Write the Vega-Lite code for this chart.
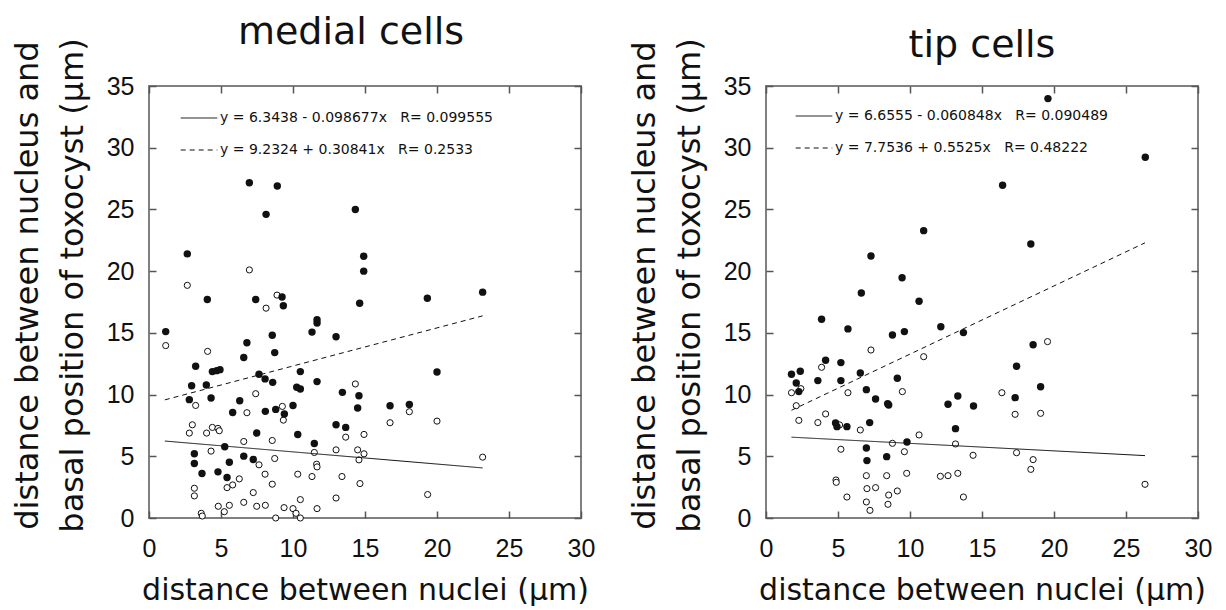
{
  "$schema": "https://vega.github.io/schema/vega-lite/v6.json",
  "background": "white",
  "padding": {"left": 10, "top": 12, "right": 0, "bottom": 0},
  "bounds": "flush",
  "spacing": 185,
  "config": {
    "view": {"stroke": "#808080", "strokeWidth": 2},
    "axis": {"grid": false, "domain": false, "ticks": true, "tickSize": -7, "tickColor": "#555555", "tickWidth": 1.5,
      "labelFont": "Liberation Sans", "labelFontSize": 25, "labelColor": "#111111",
      "titleFont": "DejaVu Sans", "titleFontWeight": "normal", "titleColor": "#111111",
      "labelFlush": false, "labelOverlap": false},
    "title": {"font": "DejaVu Sans", "fontSize": 38, "fontWeight": "normal", "color": "#111111", "anchor": "middle", "frame": "group"},
    "legend": {"orient": "none", "title": null, "padding": 0, "symbolType": "stroke", "symbolSize": 1340, "symbolStrokeWidth": 1, "symbolStrokeColor": "#111111", "labelFont": "DejaVu Sans", "labelFontSize": 14, "labelColor": "#111111", "labelOffset": 2, "rowPadding": 6, "labelLimit": 400}
  },
  "resolve": {"scale": {"strokeDash": "independent"}, "legend": {"strokeDash": "independent"}},
  "datasets": {
    "medial": [
      {"x": 6.97, "y": 27.16, "set": "filled"}, {"x": 8.91, "y": 26.9, "set": "filled"}, {"x": 8.13, "y": 24.6, "set": "filled"}, {"x": 14.33, "y": 25.0, "set": "filled"},
      {"x": 2.66, "y": 21.4, "set": "filled"}, {"x": 14.91, "y": 21.2, "set": "filled"}, {"x": 14.91, "y": 20.0, "set": "filled"}, {"x": 4.05, "y": 17.7, "set": "filled"},
      {"x": 7.41, "y": 17.7, "set": "filled"}, {"x": 9.24, "y": 17.9, "set": "filled"}, {"x": 9.33, "y": 17.2, "set": "filled"}, {"x": 14.63, "y": 17.4, "set": "filled"},
      {"x": 11.67, "y": 16.06, "set": "filled"}, {"x": 11.67, "y": 15.8, "set": "filled"}, {"x": 11.32, "y": 15.06, "set": "filled"}, {"x": 12.99, "y": 14.68, "set": "filled"},
      {"x": 1.16, "y": 15.1, "set": "filled"}, {"x": 8.56, "y": 14.8, "set": "filled"}, {"x": 6.8, "y": 14.2, "set": "filled"}, {"x": 8.73, "y": 13.4, "set": "filled"},
      {"x": 6.58, "y": 13.0, "set": "filled"}, {"x": 19.33, "y": 17.8, "set": "filled"}, {"x": 23.17, "y": 18.3, "set": "filled"}, {"x": 3.24, "y": 12.3, "set": "filled"},
      {"x": 4.4, "y": 11.86, "set": "filled"}, {"x": 4.7, "y": 11.94, "set": "filled"}, {"x": 4.93, "y": 12.02, "set": "filled"}, {"x": 2.96, "y": 10.72, "set": "filled"},
      {"x": 3.98, "y": 10.78, "set": "filled"}, {"x": 7.64, "y": 11.64, "set": "filled"}, {"x": 8.06, "y": 11.27, "set": "filled"}, {"x": 8.59, "y": 10.99, "set": "filled"},
      {"x": 10.51, "y": 11.86, "set": "filled"}, {"x": 10.26, "y": 10.59, "set": "filled"}, {"x": 10.51, "y": 10.45, "set": "filled"}, {"x": 11.67, "y": 11.05, "set": "filled"},
      {"x": 13.43, "y": 10.18, "set": "filled"}, {"x": 14.58, "y": 9.91, "set": "filled"}, {"x": 14.49, "y": 8.91, "set": "filled"}, {"x": 2.8, "y": 9.59, "set": "filled"},
      {"x": 4.31, "y": 9.72, "set": "filled"}, {"x": 6.3, "y": 9.5, "set": "filled"}, {"x": 5.81, "y": 8.55, "set": "filled"}, {"x": 8.08, "y": 8.64, "set": "filled"},
      {"x": 8.8, "y": 8.8, "set": "filled"}, {"x": 9.4, "y": 8.42, "set": "filled"}, {"x": 10.0, "y": 9.12, "set": "filled"}, {"x": 7.48, "y": 6.88, "set": "filled"},
      {"x": 10.33, "y": 6.77, "set": "filled"}, {"x": 12.99, "y": 7.55, "set": "filled"}, {"x": 13.66, "y": 7.34, "set": "filled"}, {"x": 11.48, "y": 6.04, "set": "filled"},
      {"x": 5.26, "y": 5.77, "set": "filled"}, {"x": 3.15, "y": 5.2, "set": "filled"}, {"x": 3.15, "y": 4.41, "set": "filled"}, {"x": 6.58, "y": 5.01, "set": "filled"},
      {"x": 7.24, "y": 4.74, "set": "filled"}, {"x": 5.58, "y": 4.52, "set": "filled"}, {"x": 3.68, "y": 3.6, "set": "filled"}, {"x": 4.79, "y": 3.74, "set": "filled"},
      {"x": 5.42, "y": 3.28, "set": "filled"}, {"x": 20.0, "y": 11.83, "set": "filled"}, {"x": 16.74, "y": 9.1, "set": "filled"}, {"x": 18.08, "y": 9.2, "set": "filled"},
      {"x": 6.97, "y": 20.1, "set": "open"}, {"x": 2.66, "y": 18.85, "set": "open"}, {"x": 8.89, "y": 18.06, "set": "open"}, {"x": 8.13, "y": 17.0, "set": "open"},
      {"x": 1.16, "y": 13.97, "set": "open"}, {"x": 4.07, "y": 13.5, "set": "open"}, {"x": 3.24, "y": 9.12, "set": "open"}, {"x": 7.41, "y": 10.07, "set": "open"},
      {"x": 6.8, "y": 8.53, "set": "open"}, {"x": 9.26, "y": 9.04, "set": "open"}, {"x": 9.33, "y": 7.93, "set": "open"}, {"x": 14.33, "y": 10.86, "set": "open"},
      {"x": 3.01, "y": 7.55, "set": "open"}, {"x": 2.8, "y": 6.88, "set": "open"}, {"x": 4.0, "y": 6.88, "set": "open"}, {"x": 4.4, "y": 7.34, "set": "open"},
      {"x": 4.79, "y": 7.26, "set": "open"}, {"x": 4.88, "y": 7.07, "set": "open"}, {"x": 6.58, "y": 6.2, "set": "open"}, {"x": 8.56, "y": 6.28, "set": "open"},
      {"x": 13.66, "y": 6.55, "set": "open"}, {"x": 14.93, "y": 6.77, "set": "open"}, {"x": 4.31, "y": 5.42, "set": "open"}, {"x": 11.48, "y": 5.31, "set": "open"},
      {"x": 12.99, "y": 5.52, "set": "open"}, {"x": 14.49, "y": 5.52, "set": "open"}, {"x": 14.93, "y": 5.2, "set": "open"}, {"x": 14.58, "y": 4.71, "set": "open"},
      {"x": 8.73, "y": 4.82, "set": "open"}, {"x": 7.64, "y": 4.31, "set": "open"}, {"x": 11.64, "y": 4.36, "set": "open"}, {"x": 11.67, "y": 4.14, "set": "open"},
      {"x": 8.06, "y": 3.55, "set": "open"}, {"x": 10.33, "y": 3.55, "set": "open"}, {"x": 11.32, "y": 3.36, "set": "open"}, {"x": 13.4, "y": 3.36, "set": "open"},
      {"x": 6.27, "y": 3.17, "set": "open"}, {"x": 5.81, "y": 2.68, "set": "open"}, {"x": 5.42, "y": 2.46, "set": "open"}, {"x": 8.56, "y": 2.74, "set": "open"},
      {"x": 14.65, "y": 2.79, "set": "open"}, {"x": 3.15, "y": 2.41, "set": "open"}, {"x": 3.15, "y": 1.79, "set": "open"}, {"x": 7.24, "y": 2.06, "set": "open"},
      {"x": 10.51, "y": 1.49, "set": "open"}, {"x": 12.99, "y": 1.62, "set": "open"}, {"x": 6.58, "y": 1.27, "set": "open"}, {"x": 4.81, "y": 0.95, "set": "open"},
      {"x": 5.58, "y": 1.03, "set": "open"}, {"x": 5.23, "y": 0.51, "set": "open"}, {"x": 7.48, "y": 0.95, "set": "open"}, {"x": 8.08, "y": 1.03, "set": "open"},
      {"x": 9.38, "y": 0.84, "set": "open"}, {"x": 10.0, "y": 0.76, "set": "open"}, {"x": 11.67, "y": 0.76, "set": "open"}, {"x": 3.63, "y": 0.38, "set": "open"},
      {"x": 3.7, "y": 0.16, "set": "open"}, {"x": 8.8, "y": 0.0, "set": "open"}, {"x": 10.21, "y": 0.38, "set": "open"}, {"x": 10.51, "y": 0.0, "set": "open"},
      {"x": 18.08, "y": 8.61, "set": "open"}, {"x": 16.74, "y": 7.72, "set": "open"}, {"x": 20.0, "y": 7.85, "set": "open"}, {"x": 23.17, "y": 4.93, "set": "open"},
      {"x": 19.35, "y": 1.9, "set": "open"}
    ],
    "tip": [
      {"x": 19.58, "y": 33.98, "set": "filled"}, {"x": 26.34, "y": 29.23, "set": "filled"}, {"x": 16.43, "y": 26.96, "set": "filled"}, {"x": 10.95, "y": 23.28, "set": "filled"},
      {"x": 7.29, "y": 21.23, "set": "filled"}, {"x": 9.45, "y": 19.47, "set": "filled"}, {"x": 6.62, "y": 18.23, "set": "filled"}, {"x": 10.63, "y": 17.56, "set": "filled"},
      {"x": 3.86, "y": 16.1, "set": "filled"}, {"x": 5.69, "y": 15.32, "set": "filled"}, {"x": 8.78, "y": 14.83, "set": "filled"}, {"x": 9.61, "y": 15.1, "set": "filled"},
      {"x": 12.14, "y": 15.5, "set": "filled"}, {"x": 13.71, "y": 15.02, "set": "filled"}, {"x": 4.14, "y": 12.78, "set": "filled"}, {"x": 5.2, "y": 12.59, "set": "filled"},
      {"x": 1.77, "y": 11.64, "set": "filled"}, {"x": 2.38, "y": 11.89, "set": "filled"}, {"x": 2.1, "y": 10.94, "set": "filled"}, {"x": 3.6, "y": 11.13, "set": "filled"},
      {"x": 5.2, "y": 11.13, "set": "filled"}, {"x": 6.55, "y": 11.75, "set": "filled"}, {"x": 9.12, "y": 11.32, "set": "filled"}, {"x": 6.97, "y": 10.4, "set": "filled"},
      {"x": 18.39, "y": 22.2, "set": "filled"}, {"x": 18.55, "y": 14.04, "set": "filled"}, {"x": 17.4, "y": 12.29, "set": "filled"}, {"x": 19.07, "y": 10.64, "set": "filled"},
      {"x": 2.28, "y": 10.24, "set": "filled"}, {"x": 7.61, "y": 9.64, "set": "filled"}, {"x": 8.52, "y": 9.16, "set": "filled"}, {"x": 8.45, "y": 9.25, "set": "filled"},
      {"x": 12.64, "y": 9.21, "set": "filled"}, {"x": 13.32, "y": 9.89, "set": "filled"}, {"x": 14.41, "y": 9.08, "set": "filled"}, {"x": 4.83, "y": 7.7, "set": "filled"},
      {"x": 4.93, "y": 7.4, "set": "filled"}, {"x": 5.62, "y": 7.4, "set": "filled"}, {"x": 7.2, "y": 7.73, "set": "filled"}, {"x": 13.16, "y": 7.24, "set": "filled"},
      {"x": 9.79, "y": 6.16, "set": "filled"}, {"x": 6.97, "y": 5.67, "set": "filled"}, {"x": 7.01, "y": 4.65, "set": "filled"}, {"x": 8.38, "y": 4.97, "set": "filled"},
      {"x": 17.3, "y": 9.75, "set": "filled"},
      {"x": 7.29, "y": 13.61, "set": "open"}, {"x": 3.86, "y": 12.21, "set": "open"}, {"x": 10.95, "y": 13.07, "set": "open"}, {"x": 19.55, "y": 14.29, "set": "open"},
      {"x": 1.77, "y": 10.15, "set": "open"}, {"x": 2.42, "y": 10.48, "set": "open"}, {"x": 5.69, "y": 10.15, "set": "open"}, {"x": 9.47, "y": 10.24, "set": "open"},
      {"x": 2.1, "y": 9.1, "set": "open"}, {"x": 2.28, "y": 7.91, "set": "open"}, {"x": 3.6, "y": 7.73, "set": "open"}, {"x": 4.14, "y": 8.43, "set": "open"},
      {"x": 5.11, "y": 7.54, "set": "open"}, {"x": 6.55, "y": 7.13, "set": "open"}, {"x": 10.63, "y": 6.73, "set": "open"}, {"x": 8.78, "y": 6.05, "set": "open"},
      {"x": 13.16, "y": 6.0, "set": "open"}, {"x": 5.2, "y": 5.57, "set": "open"}, {"x": 9.61, "y": 5.37, "set": "open"}, {"x": 14.38, "y": 5.08, "set": "open"},
      {"x": 16.38, "y": 10.15, "set": "open"}, {"x": 4.86, "y": 3.08, "set": "open"}, {"x": 4.88, "y": 2.89, "set": "open"}, {"x": 6.97, "y": 3.43, "set": "open"},
      {"x": 8.38, "y": 3.43, "set": "open"}, {"x": 9.77, "y": 3.62, "set": "open"}, {"x": 12.11, "y": 3.38, "set": "open"}, {"x": 12.64, "y": 3.43, "set": "open"},
      {"x": 13.32, "y": 3.62, "set": "open"}, {"x": 7.01, "y": 2.38, "set": "open"}, {"x": 7.61, "y": 2.46, "set": "open"}, {"x": 9.12, "y": 2.19, "set": "open"},
      {"x": 8.52, "y": 1.86, "set": "open"}, {"x": 5.62, "y": 1.7, "set": "open"}, {"x": 13.71, "y": 1.7, "set": "open"}, {"x": 6.97, "y": 1.3, "set": "open"},
      {"x": 8.47, "y": 1.11, "set": "open"}, {"x": 7.22, "y": 0.62, "set": "open"}, {"x": 17.3, "y": 8.4, "set": "open"}, {"x": 19.07, "y": 8.48, "set": "open"},
      {"x": 17.4, "y": 5.29, "set": "open"}, {"x": 18.55, "y": 4.73, "set": "open"}, {"x": 18.39, "y": 3.94, "set": "open"}, {"x": 26.32, "y": 2.73, "set": "open"}
    ],
    "fits": [
      {"panel": "medial", "fit": "y = 6.3438 - 0.098677x\u00a0\u00a0\u00a0R= 0.099555", "x": 1.1, "y": 6.235},
      {"panel": "medial", "fit": "y = 6.3438 - 0.098677x\u00a0\u00a0\u00a0R= 0.099555", "x": 23.17, "y": 4.058},
      {"panel": "medial", "fit": "y = 9.2324 + 0.30841x\u00a0\u00a0\u00a0R= 0.2533", "x": 1.1, "y": 9.572},
      {"panel": "medial", "fit": "y = 9.2324 + 0.30841x\u00a0\u00a0\u00a0R= 0.2533", "x": 23.17, "y": 16.378},
      {"panel": "tip", "fit": "y = 6.6555 - 0.060848x\u00a0\u00a0\u00a0R= 0.090489", "x": 1.77, "y": 6.548},
      {"panel": "tip", "fit": "y = 6.6555 - 0.060848x\u00a0\u00a0\u00a0R= 0.090489", "x": 26.32, "y": 5.054},
      {"panel": "tip", "fit": "y = 7.7536 + 0.5525x\u00a0\u00a0\u00a0R= 0.48222", "x": 1.77, "y": 8.731},
      {"panel": "tip", "fit": "y = 7.7536 + 0.5525x\u00a0\u00a0\u00a0R= 0.48222", "x": 26.32, "y": 22.295}
    ]
  },
  "hconcat": [
    {
      "width": 432, "height": 432,
      "title": {"text": "medial cells", "dx": -14, "offset": -14},
      "resolve": {"axis": {"x": "independent", "y": "independent"}},
      "layer": [
        {
          "data": {"name": "medial"},
          "transform": [{"filter": "datum.set === 'open'"}],
          "mark": {"type": "circle", "size": 38, "fill": "white", "stroke": "#111111", "strokeWidth": 1, "opacity": 1},
          "encoding": {
            "x": {"field": "x", "type": "quantitative", "scale": {"domain": [0, 30], "nice": false, "zero": false},
              "axis": {"orient": "bottom", "values": [0, 5, 10, 15, 20, 25, 30], "labelPadding": 25, "title": "distance between nuclei (μm)", "titleFontSize": 30, "titlePadding": 14}},
            "y": {"field": "y", "type": "quantitative", "scale": {"domain": [0, 35], "nice": false, "zero": false},
              "axis": {"orient": "left", "values": [0, 5, 10, 15, 20, 25, 30, 35], "labelPadding": 22, "title": ["distance between nucleus and", "basal position of toxocyst (μm)"], "titleFontSize": 32, "titleLineHeight": 45, "titlePadding": 17, "titleY": 199}}
          }
        },
        {
          "data": {"name": "medial"},
          "transform": [{"filter": "datum.set === 'filled'"}],
          "mark": {"type": "circle", "size": 55, "fill": "#111111", "opacity": 1},
          "encoding": {
            "x": {"field": "x", "type": "quantitative", "scale": {"domain": [0, 30], "nice": false, "zero": false},
              "axis": {"orient": "top", "values": [0, 5, 10, 15, 20, 25, 30], "labels": false, "title": null}},
            "y": {"field": "y", "type": "quantitative", "scale": {"domain": [0, 35], "nice": false, "zero": false},
              "axis": {"orient": "right", "values": [0, 5, 10, 15, 20, 25, 30, 35], "labels": false, "title": null}}
          }
        },
        {
          "data": {"name": "fits"},
          "transform": [{"filter": "datum.panel === 'medial'"}],
          "mark": {"type": "line", "color": "#111111", "strokeWidth": 1},
          "encoding": {
            "x": {"field": "x", "type": "quantitative", "axis": null},
            "y": {"field": "y", "type": "quantitative", "axis": null},
            "strokeDash": {"field": "fit", "type": "nominal",
              "scale": {"domain": ["y = 6.3438 - 0.098677x\u00a0\u00a0\u00a0R= 0.099555", "y = 9.2324 + 0.30841x\u00a0\u00a0\u00a0R= 0.2533"], "range": [[1, 0], [5, 4]]},
              "legend": {"legendX": 31, "legendY": 13}}
          }
        }
      ]
    },
    {
      "width": 432, "height": 432,
      "title": {"text": "tip cells", "offset": -27},
      "resolve": {"axis": {"x": "independent", "y": "independent"}},
      "layer": [
        {
          "data": {"name": "tip"},
          "transform": [{"filter": "datum.set === 'open'"}],
          "mark": {"type": "circle", "size": 38, "fill": "white", "stroke": "#111111", "strokeWidth": 1, "opacity": 1},
          "encoding": {
            "x": {"field": "x", "type": "quantitative", "scale": {"domain": [0, 30], "nice": false, "zero": false},
              "axis": {"orient": "bottom", "values": [0, 5, 10, 15, 20, 25, 30], "labelPadding": 25, "title": "distance between nuclei (μm)", "titleFontSize": 30, "titlePadding": 14}},
            "y": {"field": "y", "type": "quantitative", "scale": {"domain": [0, 35], "nice": false, "zero": false},
              "axis": {"orient": "left", "values": [0, 5, 10, 15, 20, 25, 30, 35], "labelPadding": 22, "title": ["distance between nucleus and", "basal position of toxocyst (μm)"], "titleFontSize": 32, "titleLineHeight": 45, "titlePadding": 17, "titleY": 199}}
          }
        },
        {
          "data": {"name": "tip"},
          "transform": [{"filter": "datum.set === 'filled'"}],
          "mark": {"type": "circle", "size": 55, "fill": "#111111", "opacity": 1},
          "encoding": {
            "x": {"field": "x", "type": "quantitative", "scale": {"domain": [0, 30], "nice": false, "zero": false},
              "axis": {"orient": "top", "values": [0, 5, 10, 15, 20, 25, 30], "labels": false, "title": null}},
            "y": {"field": "y", "type": "quantitative", "scale": {"domain": [0, 35], "nice": false, "zero": false},
              "axis": {"orient": "right", "values": [0, 5, 10, 15, 20, 25, 30, 35], "labels": false, "title": null}}
          }
        },
        {
          "data": {"name": "fits"},
          "transform": [{"filter": "datum.panel === 'tip'"}],
          "mark": {"type": "line", "color": "#111111", "strokeWidth": 1},
          "encoding": {
            "x": {"field": "x", "type": "quantitative", "axis": null},
            "y": {"field": "y", "type": "quantitative", "axis": null},
            "strokeDash": {"field": "fit", "type": "nominal",
              "scale": {"domain": ["y = 6.6555 - 0.060848x\u00a0\u00a0\u00a0R= 0.090489", "y = 7.7536 + 0.5525x\u00a0\u00a0\u00a0R= 0.48222"], "range": [[1, 0], [5, 4]]},
              "legend": {"legendX": 29, "legendY": 11}}
          }
        }
      ]
    }
  ]
}
